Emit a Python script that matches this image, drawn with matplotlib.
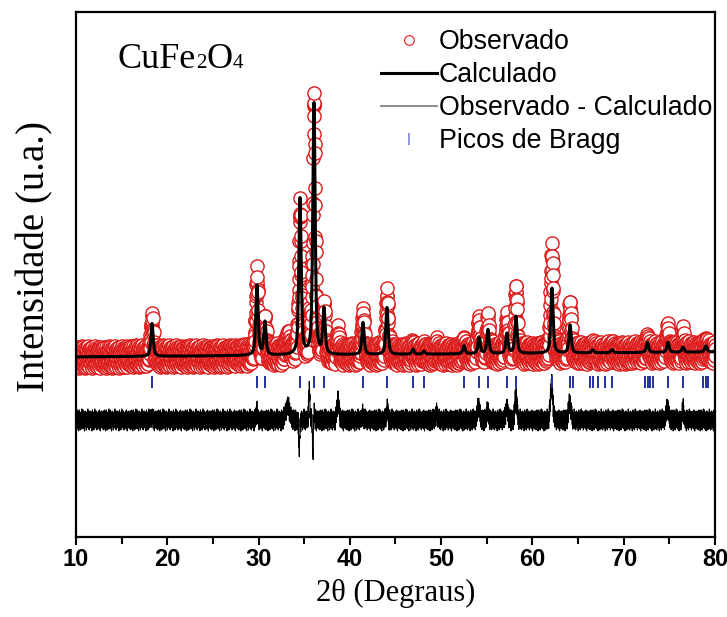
import numpy as np
import matplotlib.pyplot as plt
from matplotlib.lines import Line2D

# Peak table (2theta, height above background, px units)
peak_pos = [18.33, 29.83, 30.70, 34.54, 36.07, 37.17, 41.44, 44.07, 46.92, 48.12,
            52.50, 54.15, 55.13, 57.21, 58.20, 62.14, 64.12, 66.60, 68.72, 72.60,
            74.85, 76.49, 79.00]
peak_h = [33, 70, 33, 156, 252, 45, 32, 47, 5, 3,
          8, 16, 24, 20, 37, 65, 28, 3, 3, 10,
          10, 5, 6]
fwhm = 0.30
eta = 0.6

# background points
bg_x = [10, 80]
bg_y = [180, 185]

# observed - calculated misfits (2theta, amplitude, width)
mis_pos = [18.3, 29.8, 33.2, 34.45, 35.55, 35.95, 36.10, 38.7, 41.4, 44.1,
           49.5, 54.1, 55.1, 57.2, 58.2, 62.1, 64.1, 74.8, 76.5]
mis_amp = [4, 8, 14, -28, 32, -38, 10, 18, 6, 12,
           8, 14, 8, 12, 26, 36, 18, 12, 14]
mis_w = [0.2, 0.2, 0.5, 0.15, 0.15, 0.10, 0.08, 0.3, 0.2, 0.2,
         0.2, 0.3, 0.3, 0.3, 0.25, 0.3, 0.3, 0.3, 0.15]

# counting noise (repeats along the scan)
noise = [4, -7, 9, -3, -10, 6, 1, -5, 10, -8, 2, 7, -6, -1, 9, -11, 4, 0, -7, 10,
         -4, 6, -9, 1, 7, -3, -10, 4, 8, -6, 0, -8, 11, -2, -4, 7, -7, 3, 10, -9,
         1, 5, -2, -8, 8, -4, 4, -11, 7, 0, -6, 9, -3, 3, -7, 8, -1, -10, 5, 4,
         -8, 2, 7, -4, -5, 11, -7, 3, 0, -9, 8, -3, 6, -10, 4, 1, -6, 9, -4, -1,
         7, -8, 3, 8, -7, 0, 4, -11, 6, -3, 10, -5, 1, -8, 7, 3, -4, 8, -10, 0,
         5, -2, -7, 11, -4, 4, -8, 2, 7, -6, -3, 9, -7, 1, 8, -10, 4, -1, 6, -5,
         -8, 7, 0, -6, 9, -3, 2, -9, 5, 10, -2, -6, 3, -11, 8, 1, -5, 6, -8, 4,
         -1, 9, -7, 2, -4, 7, -9, 5]

# Bragg reflections
bragg = [18.33, 29.83, 30.70, 34.54, 36.07, 37.17, 41.44, 44.07, 46.92, 48.12,
         52.50, 54.15, 55.13, 57.21, 58.20, 62.14, 64.12, 64.44, 66.31, 66.64,
         67.18, 67.95, 68.72, 72.33, 72.66, 72.88, 73.21, 74.85, 76.49, 78.68,
         79.01, 79.24]

diff_offset = 117
bragg_y = 154.5

# build profiles
x = np.arange(10, 80.001, 0.02)
calc = np.interp(x, bg_x, bg_y)
for p, h in zip(peak_pos, peak_h):
    d = (x - p) / (fwhm / 2)
    calc += h * (eta / (1 + d**2) + (1 - eta) * np.exp(-np.log(2) * d**2))
misfit = np.zeros_like(x)
for p, a, w in zip(mis_pos, mis_amp, mis_w):
    misfit += a * np.exp(-4 * np.log(2) * ((x - p) / w)**2)
obs = calc + misfit + np.resize(noise, x.size)
diff = obs - calc + diff_offset

fig = plt.figure(figsize=(7.27, 6.17), dpi=100)
ax = fig.add_axes([0.1045, 0.1297, 0.879, 0.851])

red = '#dd1a1a'
ax.plot(x, obs, 'o', ms=9.5, mfc='white', mec=red, mew=1.0, zorder=2)
ax.plot(x, calc, '-', color='black', lw=2.2, zorder=3)
ax.plot(x, diff, '-', color='black', lw=0.8, zorder=3)
ax.plot(bragg, np.full(len(bragg), bragg_y), '|', ms=8, mew=1.4, color='#22309e', zorder=3)

ax.set_xlim(10, 80)
ax.set_ylim(0, 525)
ax.set_xticks(np.arange(10, 81, 10))
ax.set_xticks(np.arange(15, 80, 10), minor=True)
ax.set_yticks([])
ax.tick_params(axis='x', which='major', direction='out', length=6, width=1.5, pad=2)
ax.tick_params(axis='x', which='minor', direction='out', length=5, width=1.5)
for lab in ax.get_xticklabels():
    lab.set_fontfamily('Liberation Sans')
    lab.set_fontweight('bold')
    lab.set_fontsize(17)
for s in ax.spines.values():
    s.set_linewidth(1.6)

ax.set_xlabel('2θ (Degraus)', family='Liberation Serif', fontsize=22)
ax.xaxis.set_label_coords(0.5, -0.08)
ax.set_ylabel('Intensidade (u.a.)', family='Liberation Serif', fontsize=28)
ax.yaxis.set_label_coords(-0.035, 0.535)

# formula label with small, non-lowered subscripts
t1 = ax.text(14.6, 469, 'CuFe', family='Liberation Serif', fontsize=26, va='baseline')
t2 = ax.annotate('2', xy=(1, 469), xycoords=(t1, 'data'), family='Liberation Serif',
                 fontsize=15, va='baseline')
t3 = ax.annotate('O', xy=(1, 469), xycoords=(t2, 'data'), family='Liberation Serif',
                 fontsize=26, va='baseline')
ax.annotate('4', xy=(1, 469), xycoords=(t3, 'data'), family='Liberation Serif',
            fontsize=15, va='baseline')

handles = [
    Line2D([], [], ls='none', marker='o', ms=7, mfc='none', mec=red, mew=0.8),
    Line2D([], [], color='black', lw=2.2),
    Line2D([], [], color='#777777', lw=1.2),
    Line2D([], [], ls='none', marker='|', ms=9, mew=1.2, color='#7f86d8'),
]
labels = ['Observado', 'Calculado', 'Observado - Calculado', 'Picos de Bragg']
ax.legend(handles, labels, loc='upper right', bbox_to_anchor=(1.0, 0.972), frameon=False,
          prop={'family': 'Liberation Sans', 'size': 19.3}, handlelength=2.1,
          handletextpad=0.08, labelspacing=0.26, borderaxespad=0.05, borderpad=0.05)

fig.savefig('out.png', dpi=100)
